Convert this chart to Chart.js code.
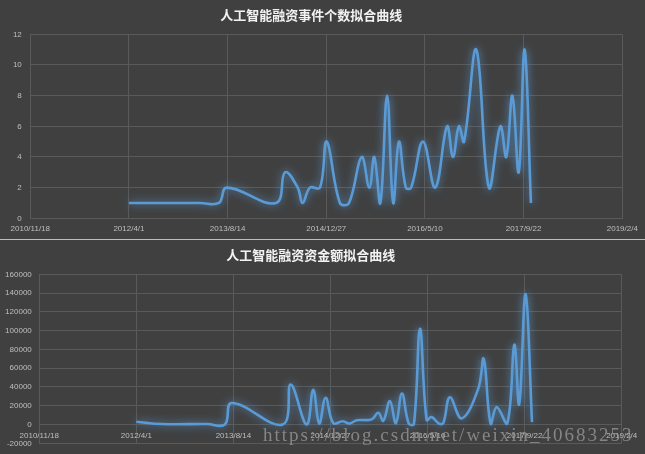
<!DOCTYPE html>
<html><head><meta charset="utf-8">
<script src="https://cdn.jsdelivr.net/npm/chart.js@4.4.0/dist/chart.umd.min.js"></script>
<style>
html,body{margin:0;padding:0;background:#404040;}
#wrap{position:relative;width:645px;height:454px;overflow:hidden;background:#404040;}
#c1{position:absolute;left:0;top:0;}
#sep{position:absolute;left:0;top:239px;width:645px;height:1px;background:#bdbdbd;}
#c2{position:absolute;left:0;top:240px;}
#wm{position:absolute;left:263px;top:425px;font-family:'Liberation Serif',serif;font-size:19px;line-height:19px;letter-spacing:2px;color:rgba(150,150,150,0.8);white-space:nowrap;pointer-events:none;}
</style></head>
<body><div id="wrap">
<canvas id="c1" width="645" height="239"></canvas>
<div id="sep"></div>
<canvas id="c2" width="645" height="214"></canvas>
<div id="wm">https://blog.csdn.net/weixin_40683253</div>
</div>
<script>
// x values are Excel date serials (days); 40500 = 2010/11/18
const xTickLabels = ['2010/11/18','2012/4/1','2013/8/14','2014/12/27','2016/5/10','2017/9/22','2019/2/4'];
const xStart = 40500;
const xStep = 500;

const countTitle = '人工智能融资事件个数拟合曲线';
const countDates = [41000,41360,41456,41495,41745,41791,41855,41880,41917,41968,42002,42069,42115,42179,42218,42243,42274,42308,42339,42368,42403,42430,42490,42552,42612,42642,42672,42698,42760,42824,42882,42912,42943,42975,43005,43037];
const countValues = [1,1,1,2,1,3,2,1,2,2,5,1,1,4,2,4,1,8,1,5,2,2,5,2,6,4,6,5,11,2,6,4,8,3,11,1];
const countYTicks = [0,2,4,6,8,10,12];

const amountTitle = '人工智能融资资金额拟合曲线';
const amountDates = [41000,41130,41365,41456,41491,41754,41795,41877,41911,41942,41975,42014,42063,42097,42135,42212,42246,42272,42306,42337,42368,42403,42430,42461,42495,42521,42559,42581,42615,42676,42761,42789,42825,42856,42911,42947,42972,43005,43038];
const amountValues = [3000,500,500,0,23000,0,42500,0,37000,1000,28500,1500,3500,1000,4500,5500,12500,4000,25000,1500,33000,1000,1000,102000,5000,8000,1000,1500,29000,6500,38000,70000,1000,18500,1500,85000,21500,139000,2500];
const amountYTicks = [-20000,0,20000,40000,60000,80000,100000,120000,140000,160000];

const GRID = '#5a5a5a', TICK = '#bfbfbf', LINE = '#5B9BD5';

const glow = {
  id: 'glow',
  beforeDatasetDraw(chart) {
    const c = chart.ctx; c.save();
    c.shadowColor = 'rgba(91,155,213,0.9)';
    c.shadowBlur = 9;
  },
  afterDatasetDraw(chart) { chart.ctx.restore(); }
};

function makeChart(canvas, title, dates, values, yTicks, lay) {
  const pts = dates.map((d, i) => ({x: d, y: values[i]}));
  return new Chart(canvas, {
    type: 'line',
    data: { datasets: [{ data: pts, borderColor: LINE, borderWidth: 2.6, pointRadius: 0, tension: 0.4, fill: false }] },
    plugins: [glow],
    options: {
      responsive: false, animation: false,
      layout: { padding: { top: 0, left: 0, bottom: lay.bottom, right: lay.right } },
      plugins: {
        legend: { display: false }, tooltip: { enabled: false },
        title: { display: true, text: title, color: '#f2f2f2',
          font: { family: "'Noto Sans CJK SC'", size: 13, weight: 'bold' },
          padding: { top: 7, bottom: 11.7 } }
      },
      scales: {
        x: {
          type: 'linear', position: lay.xPos,
          min: xStart, max: xStart + xStep * (xTickLabels.length - 1),
          grid: { color: GRID, drawTicks: false, lineWidth: 1 },
          border: { color: GRID },
          ticks: { stepSize: xStep, autoSkip: false, maxRotation: 0, color: TICK, padding: 6,
            font: { family: "'Liberation Sans'", size: 8 },
            callback: v => xTickLabels[Math.round((v - xStart) / xStep)] },
          afterFit: s => { s.height = lay.xH; s.paddingLeft = 0; s.paddingRight = 0; }
        },
        y: {
          min: yTicks[0], max: yTicks[yTicks.length - 1],
          grid: { color: GRID, drawTicks: false, lineWidth: 1 },
          border: { color: GRID },
          ticks: { stepSize: yTicks[1] - yTicks[0], color: TICK, padding: lay.yPad,
            font: { family: "'Liberation Sans'", size: 8 },
            callback: v => String(v) },
          afterFit: s => { s.width = lay.yW; s.paddingTop = 0; s.paddingBottom = 0; }
        }
      }
    }
  });
}

makeChart(document.getElementById('c1'), countTitle, countDates, countValues, countYTicks,
  { right: 22.7, bottom: 0, xH: 20.7, yW: 30.3, yPad: 8.5, xPos: 'bottom' });
makeChart(document.getElementById('c2'), amountTitle, amountDates, amountValues, amountYTicks,
  { right: 23.3, bottom: 10.7, xH: 0, yW: 39.3, yPad: 7.5, xPos: { y: 0 } });
</script>
</body></html>
